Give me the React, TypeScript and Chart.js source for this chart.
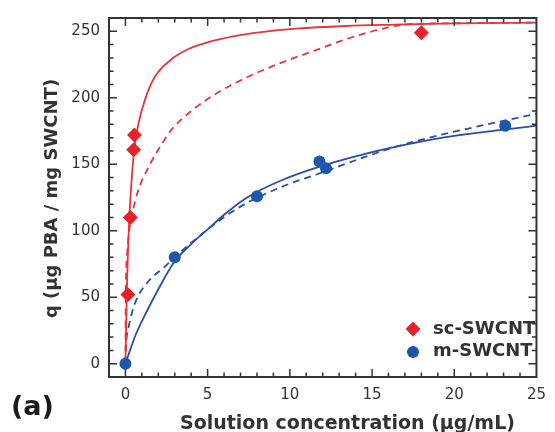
import React, { useEffect, useRef } from "react";
import { Chart, registerables } from "chart.js";

Chart.register(...registerables);

// Measured adsorption data (concentration in µg/mL, q in µg PBA / mg SWCNT)
const scConc = [0.15, 0.3, 0.5, 0.55, 18];
const scQ = [52, 110, 161, 172, 249];
const mConc = [0, 3, 8, 11.8, 12.2, 23.1];
const mQ = [0, 80, 126, 152, 147, 179];

// Langmuir fit curves (solid)
const scLangConc = [0, 0.1, 0.2, 0.3, 0.4, 0.55, 0.8, 1.2, 1.8, 2.8, 3.8, 4.8, 6.7, 8, 10.4, 13.4, 16.4, 20, 25];
const scLangQ = [0, 62, 100, 124, 142, 163, 181, 199, 216, 229, 236.5, 241, 246.5, 249, 252, 254, 255, 256, 256.5];
const mLangConc = [0, 0.6, 1.2, 2, 3, 4, 5, 6, 7.4, 9.5, 12, 14, 16.4, 19.3, 23, 25];
const mLangQ = [0, 21, 37, 56, 77, 90, 101, 112, 125, 138, 149, 156, 163, 170, 176, 179];

// Freundlich fit curves (dashed)
const scFreuConc = [0, 0.02, 0.1, 0.2, 0.4, 0.77, 1.37, 2.2, 2.8, 4, 5.5, 7.5, 9.4, 11.4, 13.4, 16, 17.5, 20, 25];
const scFreuQ = [0, 50, 82, 97, 112, 130, 147, 165, 176, 190, 203, 216, 226, 235, 244, 253, 255.5, 256, 256.5];
const mFreuConc = [0, 0.05, 0.2, 0.6, 1.4, 2.4, 3, 4, 5, 6.2, 7.4, 9.5, 12, 14, 16.4, 19.3, 22, 25];
const mFreuQ = [0, 16, 28, 46, 62, 73, 80, 91, 101, 112, 121, 133, 144, 153, 163, 172.5, 180, 188];

// Axes
const xTickValues = [0, 5, 10, 15, 20, 25];
const yTickValues = [0, 50, 100, 150, 200, 250];
const xMinorStep = 1;
const yMinorStep = 10;

const seriesLabels = ["sc-SWCNT", "m-SWCNT"];
const xTitle = "Solution concentration (µg/mL)";
const yTitle = "q (µg PBA / mg SWCNT)";
const panelLabel = "(a)";

const RED = "#e8212b";
const RED_LINE = "#e8353c";
const BLUE = "#1e56a8";
const BLUE_LINE = "#2b4ea4";
const INK = "#333333";
const FRAME = "#333333";
const FONT = "'DejaVu Sans', 'Liberation Sans', sans-serif";

const zip = (xs: number[], ys: number[]) => xs.map((x, i) => ({ x, y: ys[i] }));

const decorPlugin = {
  id: "decor",
  afterDraw(chart: any) {
    const { ctx, chartArea: a, scales } = chart;
    const xs = scales.x;
    const ys = scales.y;
    ctx.save();
    ctx.strokeStyle = FRAME;
    ctx.lineWidth = 1.5;

    const major = 8;
    const minor = 4.5;
    ctx.beginPath();
    // x ticks, bottom and top, pointing inward
    for (let v = Math.ceil(xs.min); v < xs.max; v += xMinorStep) {
      if (v <= xs.min) continue;
      const px = xs.getPixelForValue(v);
      const len = xTickValues.includes(v) ? major : minor;
      ctx.moveTo(px, a.bottom);
      ctx.lineTo(px, a.bottom - len);
      ctx.moveTo(px, a.top);
      ctx.lineTo(px, a.top + len);
    }
    // y ticks, left and right, pointing inward
    for (let v = Math.ceil(ys.min / yMinorStep) * yMinorStep; v < ys.max; v += yMinorStep) {
      if (v <= ys.min) continue;
      const py = ys.getPixelForValue(v);
      const len = yTickValues.includes(v) ? major : minor;
      ctx.moveTo(a.left, py);
      ctx.lineTo(a.left + len, py);
      ctx.moveTo(a.right, py);
      ctx.lineTo(a.right - len, py);
    }
    ctx.stroke();

    // plot frame
    ctx.lineWidth = 2;
    ctx.strokeRect(a.left, a.top, a.right - a.left, a.bottom - a.top);

    // legend
    ctx.fillStyle = RED;
    ctx.beginPath();
    ctx.moveTo(413 - 7.5, 329);
    ctx.lineTo(413, 329 - 7.5);
    ctx.lineTo(413 + 7.5, 329);
    ctx.lineTo(413, 329 + 7.5);
    ctx.closePath();
    ctx.fill();
    ctx.fillStyle = BLUE;
    ctx.beginPath();
    ctx.arc(413, 352, 6, 0, Math.PI * 2);
    ctx.fill();

    ctx.fillStyle = INK;
    ctx.font = `bold 18px ${FONT}`;
    ctx.textAlign = "left";
    ctx.textBaseline = "middle";
    ctx.fillText(seriesLabels[0], 433, 329);
    ctx.fillText(seriesLabels[1], 433, 351);

    // axis titles
    ctx.font = `bold 19px ${FONT}`;
    ctx.textBaseline = "alphabetic";
    ctx.fillText(xTitle, 180, 429);

    ctx.save();
    ctx.translate(52, (a.top + a.bottom) / 2 + 1);
    ctx.rotate(-Math.PI / 2);
    ctx.font = `bold 18px ${FONT}`;
    ctx.textAlign = "center";
    ctx.textBaseline = "middle";
    ctx.fillText(yTitle, 0, 0);
    ctx.restore();

    // panel label
    ctx.font = `bold 27px ${FONT}`;
    ctx.textAlign = "left";
    ctx.textBaseline = "alphabetic";
    ctx.fillStyle = "#1a1a1a";
    ctx.fillText(panelLabel, 11, 415);

    ctx.restore();
  },
};

export default function App() {
  const canvasRef = useRef<HTMLCanvasElement | null>(null);

  useEffect(() => {
    const canvas = canvasRef.current;
    if (!canvas) return;

    const fitLine = (data: { x: number; y: number }[], color: string, dashed: boolean) => ({
      data,
      showLine: true,
      borderColor: color,
      borderWidth: 1.8,
      borderDash: dashed ? [7, 5] : [],
      pointRadius: 0,
      pointHoverRadius: 0,
      fill: false,
      cubicInterpolationMode: "monotone" as const,
    });

    const chart = new Chart(canvas, {
      type: "scatter",
      data: {
        datasets: [
          {
            label: seriesLabels[0],
            data: zip(scConc, scQ),
            pointStyle: "rectRot",
            pointRadius: 7.5,
            backgroundColor: RED,
            borderColor: RED,
            borderWidth: 0,
            showLine: false,
          },
          {
            label: seriesLabels[1],
            data: zip(mConc, mQ),
            pointStyle: "circle",
            pointRadius: 6,
            backgroundColor: BLUE,
            borderColor: BLUE,
            borderWidth: 0,
            showLine: false,
          },
          fitLine(zip(scLangConc, scLangQ), RED_LINE, false),
          fitLine(zip(scFreuConc, scFreuQ), RED_LINE, true),
          fitLine(zip(mLangConc, mLangQ), BLUE_LINE, false),
          fitLine(zip(mFreuConc, mFreuQ), BLUE_LINE, true),
        ] as any,
      },
      options: {
        responsive: false,
        animation: false,
        devicePixelRatio: 1,
        layout: { padding: { left: 0, right: 11, top: 17, bottom: 0 } },
        plugins: {
          legend: { display: false },
          tooltip: { enabled: false },
        },
        scales: {
          x: {
            type: "linear",
            min: -1,
            max: 25,
            afterBuildTicks: (s: any) => {
              s.ticks = xTickValues.map((value) => ({ value }));
            },
            afterFit: (s: any) => {
              s.height = 55;
            },
            grid: { display: false, drawTicks: false },
            border: { display: false },
            ticks: {
              color: INK,
              padding: 9,
              font: { family: FONT, size: 15 },
              maxRotation: 0,
            },
          },
          y: {
            type: "linear",
            min: -10,
            max: 260,
            afterBuildTicks: (s: any) => {
              s.ticks = yTickValues.map((value) => ({ value }));
            },
            afterFit: (s: any) => {
              s.width = 109;
            },
            grid: { display: false, drawTicks: false },
            border: { display: false },
            ticks: {
              color: INK,
              padding: 9,
              font: { family: FONT, size: 15 },
            },
          },
        },
      },
      plugins: [decorPlugin],
    });

    return () => chart.destroy();
  }, []);

  return (
    <div style={{ position: "absolute", left: 0, top: 0, width: 555, height: 432, background: "#fff" }}>
      <canvas ref={canvasRef} width={555} height={432} style={{ display: "block" }} />
    </div>
  );
}
